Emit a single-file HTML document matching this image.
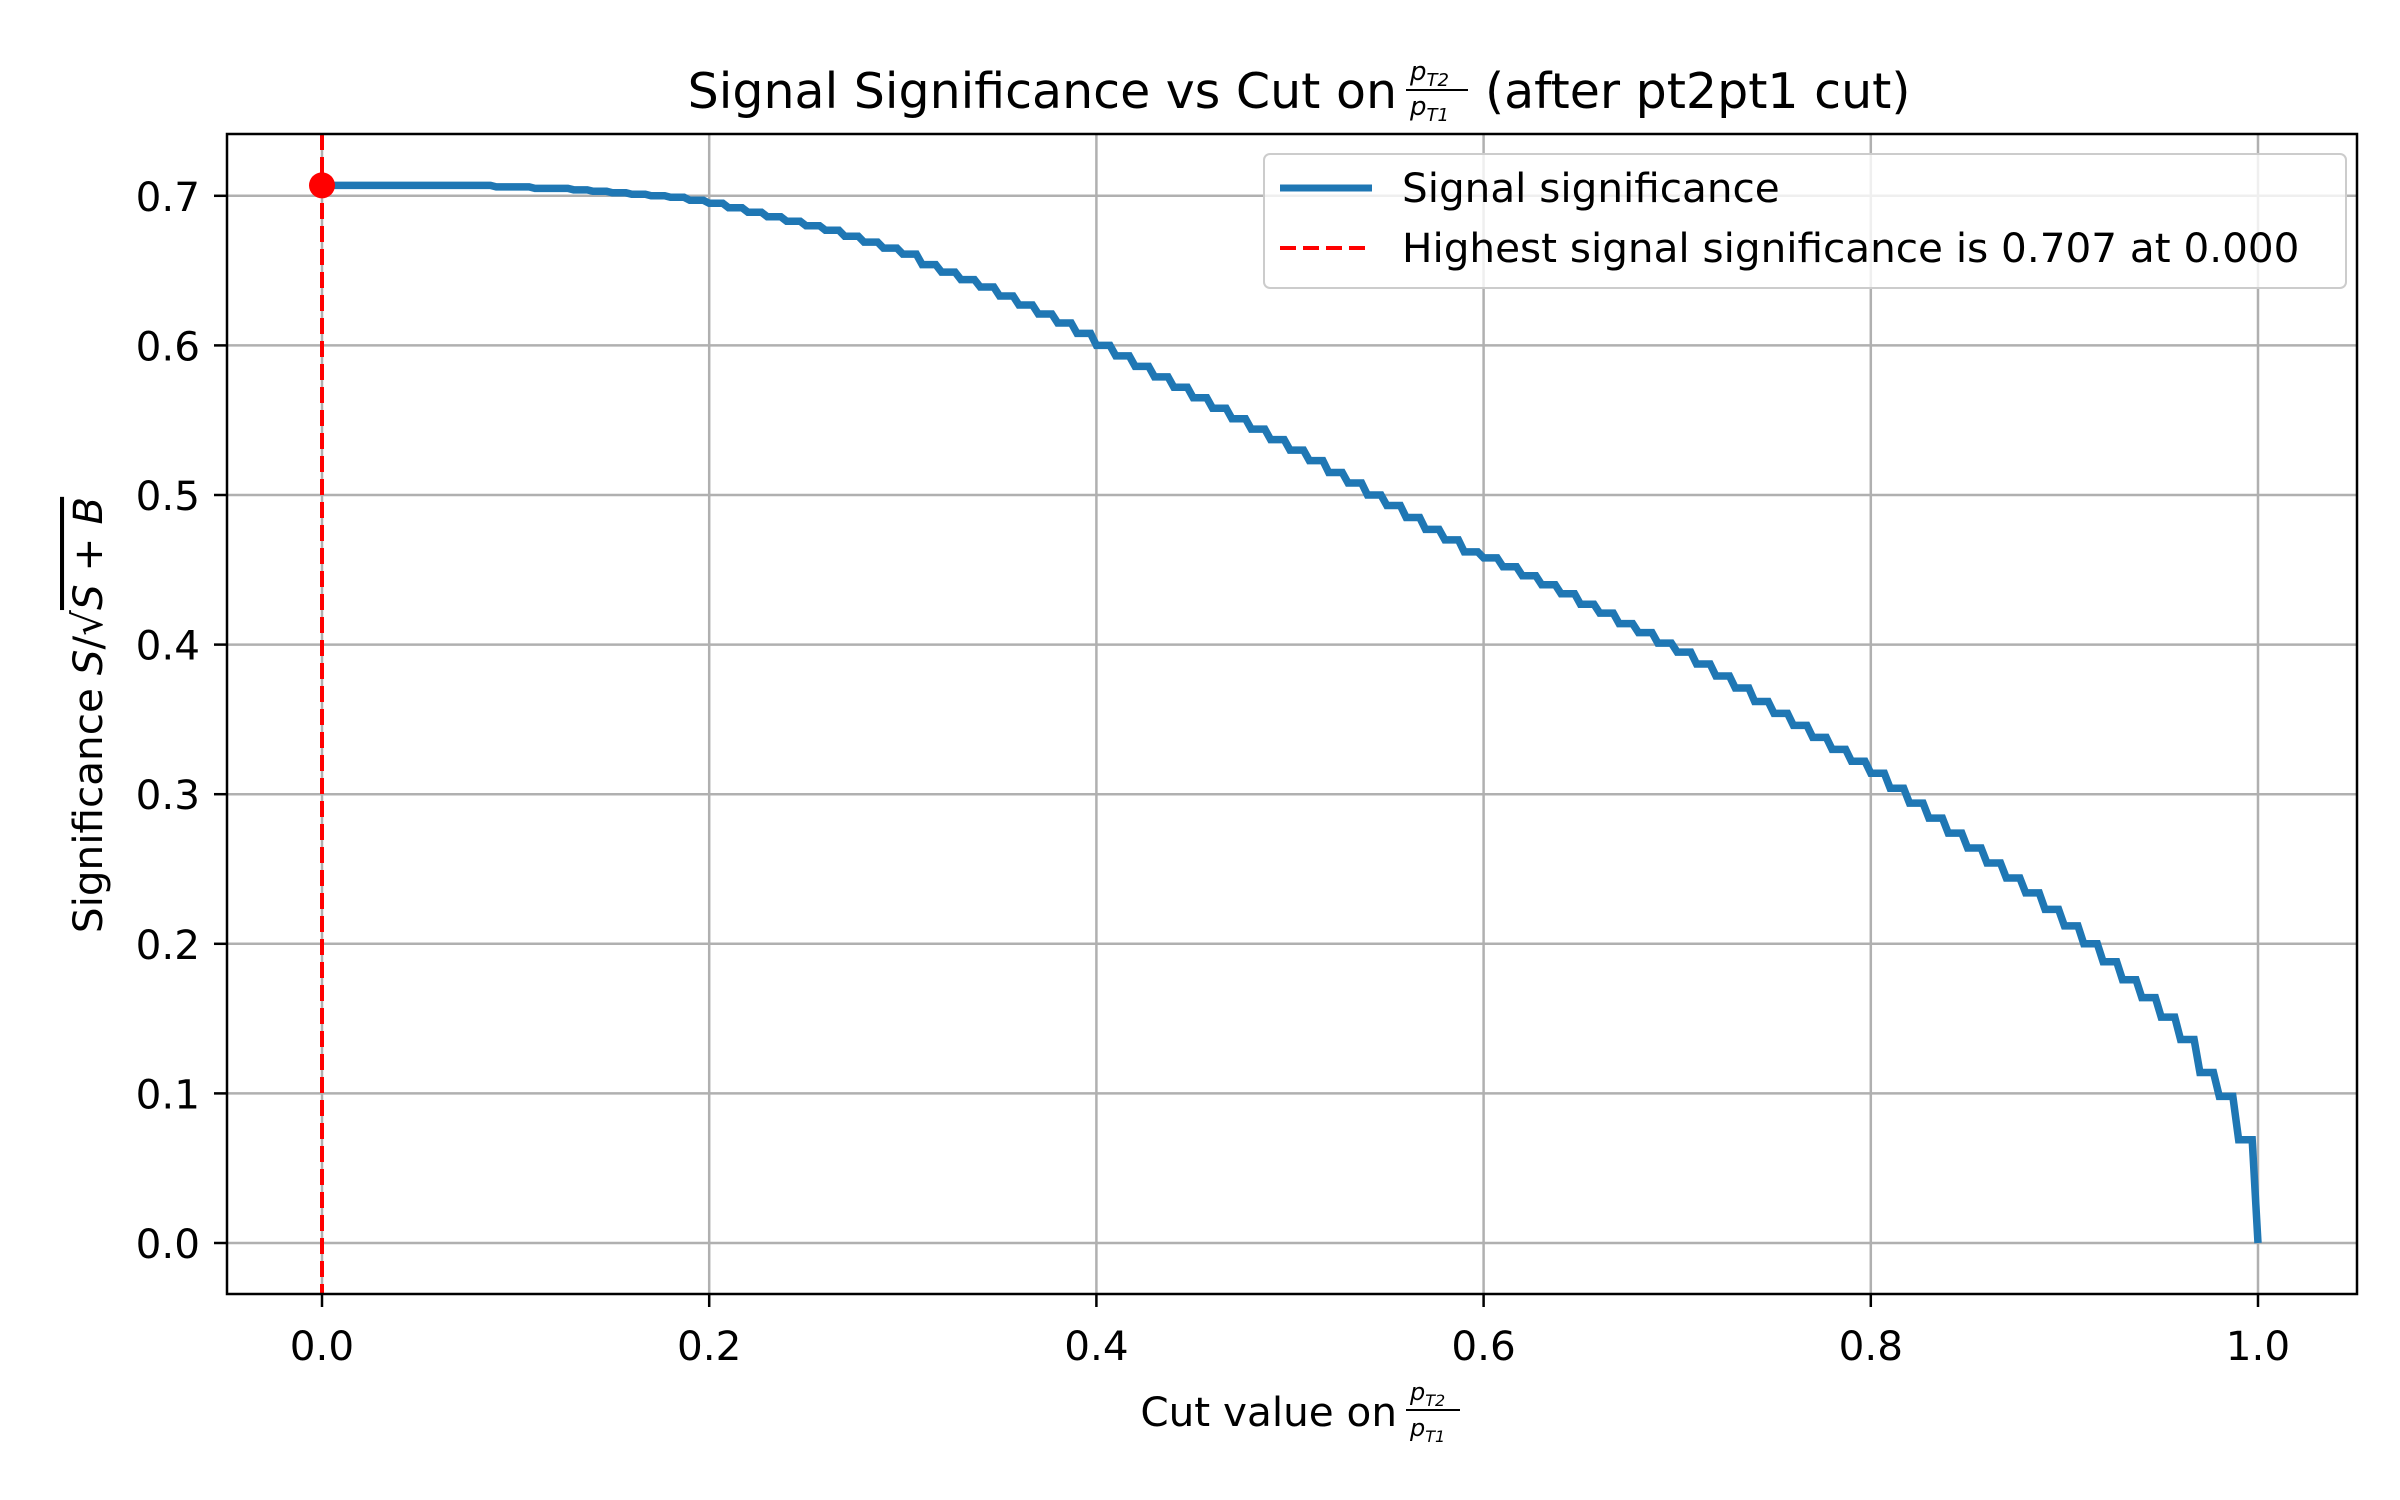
<!DOCTYPE html>
<html><head><meta charset="utf-8"><style>
html,body{margin:0;padding:0;background:#fff}
svg{display:block;font-family:"DejaVu Sans","Liberation Sans",sans-serif}
</style></head><body>
<svg id="chart" width="2400" height="1500" viewBox="0 0 2400 1500" xmlns="http://www.w3.org/2000/svg">
<rect width="2400" height="1500" fill="#fff"/>
<g id="grid"></g>
<g id="series"></g>
<rect x="227" y="134" width="2130" height="1160" fill="none" stroke="#000" stroke-width="2.5"/>
<g id="ticks"></g>
<g>
<text x="1397" y="108" font-size="49" text-anchor="end">Signal Significance vs Cut on</text>
<text x="1410" y="80" font-size="26" font-style="italic">p<tspan font-size="18" dy="6">T2</tspan></text>
<line x1="1406" y1="90" x2="1468" y2="90" stroke="#000" stroke-width="2"/>
<text x="1410" y="115" font-size="26" font-style="italic">p<tspan font-size="18" dy="6">T1</tspan></text>
<text x="1485" y="108" font-size="49">(after pt2pt1 cut)</text>
</g>
<g>
<text x="1397" y="1426" font-size="40.5" text-anchor="end">Cut value on</text>
<text x="1410" y="1400" font-size="24" font-style="italic">p<tspan font-size="16" dy="6">T2</tspan></text>
<line x1="1406" y1="1410" x2="1460" y2="1410" stroke="#000" stroke-width="2"/>
<text x="1410" y="1436" font-size="24" font-style="italic">p<tspan font-size="16" dy="6">T1</tspan></text>
</g>
<g transform="translate(102,715) rotate(-90)">
<text x="0" y="0" font-size="40.5" text-anchor="middle">Significance <tspan font-style="italic">S</tspan>/√<tspan font-style="italic" text-decoration="overline">S + B</tspan></text>
</g>
<g>
<rect x="1264" y="154" width="1082" height="134" rx="6" fill="#fff" fill-opacity="0.8" stroke="#ccc" stroke-width="2"/>
<line x1="1280" y1="188" x2="1372" y2="188" stroke="#1f77b4" stroke-width="7"/>
<text x="1402" y="202" font-size="40.5">Signal significance</text>
<line x1="1280" y1="248" x2="1372" y2="248" stroke="#ff0000" stroke-width="4" stroke-dasharray="16,7"/>
<text x="1402" y="262" font-size="40.5">Highest signal significance is 0.707 at 0.000</text>
</g>
</svg>
<script>
const cutValues = [];
for (let i = 0; i <= 100; i++) cutValues.push(i / 100);
const significance = [
0.707,0.707,0.707,0.707,0.707,0.707,0.707,0.707,0.707,0.706,0.706,
0.705,0.705,0.704,0.703,0.702,0.701,0.700,0.699,0.697,0.695,
0.692,0.689,0.686,0.683,0.680,0.677,0.673,0.669,0.665,0.661,
0.654,0.649,0.644,0.639,0.633,0.627,0.621,0.615,0.608,0.600,
0.593,0.586,0.579,0.572,0.565,0.558,0.551,0.544,0.537,0.530,
0.523,0.515,0.508,0.500,0.493,0.485,0.477,0.470,0.462,0.458,
0.452,0.446,0.440,0.434,0.427,0.421,0.414,0.408,0.401,0.395,
0.387,0.379,0.371,0.362,0.354,0.346,0.338,0.330,0.322,0.314,
0.304,0.294,0.284,0.274,0.264,0.254,0.244,0.234,0.223,0.212,
0.200,0.188,0.176,0.164,0.151,0.136,0.114,0.098,0.069,0.000];
const xTicks = [0.0,0.2,0.4,0.6,0.8,1.0];
const yTicks = [0.0,0.1,0.2,0.3,0.4,0.5,0.6,0.7];
const bestCut = 0.0, bestValue = 0.707;

const NS = 'http://www.w3.org/2000/svg';
const X = v => 322 + v * 1936;
const Y = v => 1243 - v * 1496;
function mk(tag, attrs, parent) {
  const e = document.createElementNS(NS, tag);
  for (const k in attrs) e.setAttribute(k, attrs[k]);
  parent.appendChild(e);
  return e;
}
const grid = document.getElementById('grid');
const ticks = document.getElementById('ticks');
const series = document.getElementById('series');

xTicks.forEach(t => {
  const g = mk('line', {x1: X(t), x2: X(t), y1: 134, y2: 1294, stroke: '#b0b0b0', 'stroke-width': 2.5}, grid);
  
  
  const tk = mk('line', {x1: X(t), x2: X(t), y1: 1294, y2: 1307, stroke: '#000', 'stroke-width': 2.5}, ticks);
  
  
  const lb = mk('text', {x: X(t), y: 1360, 'font-size': 40.5, 'text-anchor': 'middle'}, ticks);
  lb.textContent = t.toFixed(1);
  
  
});
yTicks.forEach(t => {
  const g = mk('line', {x1: 227, x2: 2357, y1: Y(t), y2: Y(t), stroke: '#b0b0b0', 'stroke-width': 2.5}, grid);
  
  
  const tk = mk('line', {x1: 214, x2: 227, y1: Y(t), y2: Y(t), stroke: '#000', 'stroke-width': 2.5}, ticks);
  
  
  const lb = mk('text', {x: 200, y: Y(t) + 15, 'font-size': 40.5, 'text-anchor': 'end'}, ticks);
  lb.textContent = t.toFixed(1);
  
  
});

let d = '';
for (let i = 0; i < cutValues.length; i++) {
  const x = X(cutValues[i]), y = Y(significance[i]);
  d += (i === 0 ? 'M' : 'L') + x + ',' + y;
  if (i < cutValues.length - 1) {
    const xe = X(cutValues[i] + 0.007);
    d += 'L' + xe + ',' + y;
  }
}
const path = mk('path', {d: d, fill: 'none', stroke: '#1f77b4', 'stroke-width': 7.5, 'stroke-linejoin': 'miter'}, series);



const vl = mk('line', {x1: X(bestCut), x2: X(bestCut), y1: 134, y2: 1294, stroke: '#ff0000', 'stroke-width': 4, 'stroke-dasharray': '16,7'}, series);


const pt = mk('circle', {cx: X(bestCut), cy: Y(bestValue), r: 13, fill: '#ff0000'}, series);


</script>
</body></html>
